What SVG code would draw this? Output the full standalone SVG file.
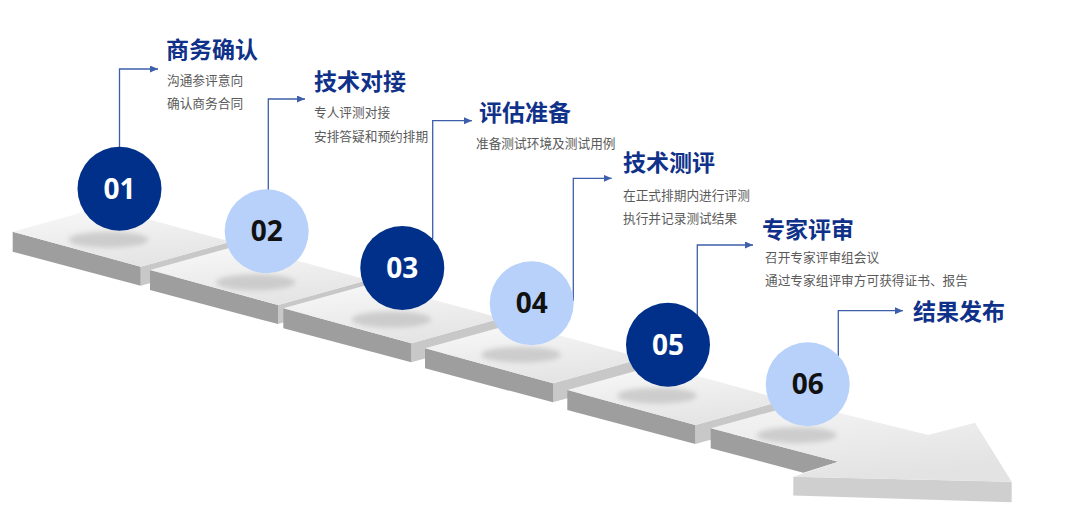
<svg xmlns="http://www.w3.org/2000/svg" width="1080" height="524" viewBox="0 0 1080 524">
<defs>
<style>
.top{fill:url(#gTop)}
.front{fill:#9e9e9e}
.side{fill:#c8c8c8}
.shadow{fill:#bcbcbc;opacity:0.65;filter:url(#blur)}
.dark{fill:#00308a}
.light{fill:#b8d1fa}
.num{font-family:"Open Sans","Liberation Sans",sans-serif;font-weight:700;font-size:28px;text-anchor:middle}
.numw{fill:#ffffff}
.numb{fill:#111111}
.title{font-family:"Noto Sans CJK SC","Noto Sans",sans-serif;font-weight:700;font-size:23px;fill:#0f3189}
.sub{font-family:"Noto Sans CJK SC","Noto Sans",sans-serif;font-size:12.7px;fill:#5a5a5a}
.conn{fill:none;stroke:#3d5fab;stroke-width:1.3;marker-end:url(#arr)}
</style>
<linearGradient id="gTop" x1="0" y1="0" x2="0.3" y2="1">
<stop offset="0" stop-color="#f9f9f9"/>
<stop offset="1" stop-color="#e5e5e5"/>
</linearGradient>
<linearGradient id="gArrow" x1="0" y1="0" x2="0.4" y2="1">
<stop offset="0" stop-color="#f5f5f5"/>
<stop offset="1" stop-color="#e3e3e3"/>
</linearGradient>
<filter id="blur" x="-30%" y="-80%" width="160%" height="260%">
<feGaussianBlur stdDeviation="2.8"/>
</filter>
<marker id="arr" markerWidth="9" markerHeight="8" refX="8" refY="3.5" orient="auto" markerUnits="userSpaceOnUse">
<path d="M0,0 L8,3.5 L0,7 Z" fill="#3d5fab"/>
</marker>
<g id="slabShape">
<path class="side" d="M128,35 L218,10 L218,29 L128,54 Z"/>
<path class="front" d="M0,0 L128,35 L128,54 L0,20 Z"/>
<path class="top" d="M0,0 L128,35 L218,10 L90,-25 Z"/>
</g>
</defs>
<rect width="1080" height="524" fill="#ffffff"/>

<g id="steps">
<use href="#slabShape" transform="translate(12.7,231.7)"/>
<use href="#slabShape" transform="translate(150,270)"/>
<use href="#slabShape" transform="translate(283.3,308.3)"/>
<use href="#slabShape" transform="translate(425,348.3)"/>
<use href="#slabShape" transform="translate(567.3,390)"/>
<g id="final-arrow">
<path fill="#cfcfcf" d="M793.3,476.7 L1011.7,481.7 L1011.7,502.3 L793.3,495.5 Z"/>
<path class="front" d="M710.7,428.3 L838.3,461.7 L803.3,472.7 L710.7,448.3 Z"/>
<path fill="url(#gArrow)" d="M710.7,428.3 L800.7,403.5 L928.3,435 L975,422.7 L1011.7,481.7 L793.3,476.7 L838.3,461.7 Z"/>
</g>
</g>

<g id="shadows">
<ellipse class="shadow" cx="108.5" cy="239.7" rx="40" ry="8"/>
<ellipse class="shadow" cx="255.7" cy="282.3" rx="40" ry="8"/>
<ellipse class="shadow" cx="391.3" cy="319.5" rx="40" ry="8"/>
<ellipse class="shadow" cx="521" cy="354.7" rx="40" ry="8"/>
<ellipse class="shadow" cx="657" cy="395.7" rx="40" ry="8"/>
<ellipse class="shadow" cx="796.7" cy="435.2" rx="40" ry="8"/>
</g>

<g id="connectors">
<path class="conn" d="M119.5,147 V69 H158"/>
<path class="conn" d="M268.3,190 V99 H305"/>
<path class="conn" d="M432.7,239 V120.7 H472"/>
<path class="conn" d="M573.3,301 V178.3 H611.7"/>
<path class="conn" d="M697.3,315 V245 H753"/>
<path class="conn" d="M838.3,356 V310.7 H903"/>
</g>

<g id="node-01">
<circle class="dark" cx="119.5" cy="188.7" r="42"/>
<text class="num numw" x="119.5" y="198.7">01</text>
<text class="title" x="166" y="58">商务确认</text>
<text class="sub" x="167" y="85">沟通参评意向</text>
<text class="sub" x="167" y="108">确认商务合同</text>
</g>
<g id="node-02">
<circle class="light" cx="266.7" cy="231.3" r="42"/>
<text class="num numb" x="266.7" y="241.3">02</text>
<text class="title" x="314" y="90">技术对接</text>
<text class="sub" x="314" y="117">专人评测对接</text>
<text class="sub" x="314" y="141">安排答疑和预约排期</text>
</g>
<g id="node-03">
<circle class="dark" cx="402.3" cy="268" r="42"/>
<text class="num numw" x="402.3" y="278">03</text>
<text class="title" x="479" y="121">评估准备</text>
<text class="sub" x="476" y="148">准备测试环境及测试用例</text>
</g>
<g id="node-04">
<circle class="light" cx="531.7" cy="303.3" r="42"/>
<text class="num numb" x="531.7" y="313.3">04</text>
<text class="title" x="623" y="171">技术测评</text>
<text class="sub" x="623" y="200">在正式排期内进行评测</text>
<text class="sub" x="623" y="223">执行并记录测试结果</text>
</g>
<g id="node-05">
<circle class="dark" cx="668" cy="344.7" r="42"/>
<text class="num numw" x="668" y="354.7">05</text>
<text class="title" x="762" y="238">专家评审</text>
<text class="sub" x="765" y="262">召开专家评审组会议</text>
<text class="sub" x="765" y="285">通过专家组评审方可获得证书、报告</text>
</g>
<g id="node-06">
<circle class="light" cx="807.7" cy="384.2" r="42"/>
<text class="num numb" x="807.7" y="394.2">06</text>
<text class="title" x="913" y="320">结果发布</text>
</g>
</svg>
